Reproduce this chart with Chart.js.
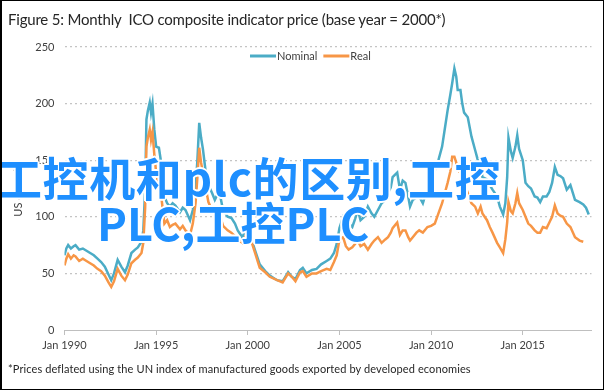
<!DOCTYPE html>
<html>
<head>
<meta charset="utf-8">
<script src="https://cdn.jsdelivr.net/npm/chart.js@4.4.1/dist/chart.umd.min.js"></script>
<style>
html,body{margin:0;padding:0;background:#fff;}
#wrap{position:relative;width:604px;height:390px;overflow:hidden;background:#fff;}
#c{position:absolute;left:0;top:0;}
#frame{position:absolute;left:0;top:0;width:604px;height:390px;box-sizing:border-box;border:1px solid #000;border-left-width:2px;pointer-events:none;}
#title{position:absolute;left:8px;top:10px;font:15px Lato,sans-serif;letter-spacing:-0.2px;color:#262626;white-space:pre;}
#foot{position:absolute;left:8px;top:362px;font:11px Lato,sans-serif;letter-spacing:0.1px;color:#262626;white-space:pre;}
.ov{position:absolute;font-family:"Noto Sans CJK SC",sans-serif;font-weight:700;line-height:46px;color:#1e8fff;white-space:nowrap;
text-shadow:0 0 2px #fff,1px 1px 0 #fff,-1px -1px 0 #fff,1px -1px 0 #fff,-1px 1px 0 #fff,0 2px 0 #fff,2px 0 0 #fff,0 -2px 0 #fff,-2px 0 0 #fff;}
</style>
</head>
<body>
<div id="wrap">
<canvas id="c" width="604" height="390"></canvas>
<div id="title">Figure 5: Monthly  ICO composite indicator price (base year = 2000*)</div>
<div id="foot">*Prices deflated using the UN index of manufactured goods exported by developed economies</div>
<div class="ov" style="left:-4px;top:153px;font-size:46px;letter-spacing:0.6px;">工控机和plc的区别,工控</div>
<div class="ov" style="left:97px;top:199px;font-size:45px;">PLC,工控PLC</div>
<div id="frame"></div>
</div>
<script>
// time in decimal years
const months = [
1990.0,1990.1,1990.2,1990.35,1990.5,1990.6,1990.8,1991.0,1991.2,1991.4,1991.6,1991.8,
1992.0,1992.2,1992.4,1992.55,1992.7,1992.9,1993.1,1993.3,1993.45,1993.65,1993.85,
1994.0,1994.2,1994.3,1994.4,1994.47,1994.55,1994.65,1994.72,1994.8,1994.9,
1995.0,1995.15,1995.3,1995.45,1995.6,1995.75,1995.9,1996.05,1996.3,1996.45,1996.6,1996.85,
1997.0,1997.15,1997.25,1997.35,1997.45,1997.55,1997.7,1997.85,1998.05,1998.2,1998.35,1998.5,1998.65,1998.9,
1999.1,1999.3,1999.45,1999.7,1999.85,2000.0,2000.2,2000.4,2000.65,2000.95,2001.2,2001.6,2001.9,
2002.2,2002.4,2002.6,2002.85,2003.0,2003.2,2003.5,2003.75,2004.0,2004.3,2004.5,2004.7,2004.85,
2005.0,2005.2,2005.35,2005.5,2005.7,2005.85,2006.0,2006.15,2006.35,2006.55,2006.75,2006.9,
2007.1,2007.3,2007.5,2007.65,2007.8,2007.9,2008.15,2008.3,2008.45,2008.6,2008.75,2008.85,
2009.0,2009.2,2009.35,2009.55,2009.7,2009.8,2010.0,2010.2,2010.4,2010.6,2010.75,2010.9,
2011.05,2011.15,2011.27,2011.37,2011.45,2011.6,2011.7,2011.8,2012.0,2012.2,2012.4,2012.55,2012.7,2012.8,
2013.05,2013.2,2013.35,2013.6,2013.75,2013.93,2014.05,2014.15,2014.22,2014.35,2014.45,2014.6,2014.7,2014.8,
2015.0,2015.15,2015.3,2015.45,2015.65,2015.8,2015.95,2016.1,2016.3,2016.45,2016.6,2016.75,2016.9,
2017.05,2017.2,2017.4,2017.6,2017.85,2018.1,2018.3,2018.45,2018.6
];
const nominal = [
66,72,75,72,74,75,71,72,70,68,66,63,
60,56,49,44,50,62,56,51,57,68,71,
73,78,88,124,186,194,201,192,200,177,
162,161,145,118,112,109,112,110,104,108,106,97,
106,125,150,183,170,160,140,128,121,115,120,118,106,100,
99,94,88,82,87,91,80,70,58,52,48,44,43,
51,47,45,53,55,50,53,54,58,61,63,68,76,
90,100,97,94,91,98,106,97,100,109,103,100,
106,112,115,121,126,135,139,124,132,130,118,109,
115,117,118,112,120,124,128,141,150,162,178,194,
208,218,231,224,212,212,200,192,188,171,159,150,145,135,
133,128,124,118,109,102,112,135,170,158,152,162,172,160,
150,130,127,125,118,117,113,118,118,122,130,144,137,
136,134,124,128,115,113,111,108,102
];
const real = [
57,63,67,63,66,65,61,63,61,59,57,54,
52,48,42,38,43,54,48,44,49,59,62,
64,68,77,108,162,170,177,168,175,155,
139,126,115,94,97,91,93,94,89,92,88,84,
94,112,135,161,148,139,126,113,106,103,104,100,92,88,
86,83,80,77,82,88,78,68,55,51,47,44,42,
50,47,43,51,52,47,50,50,52,54,53,60,66,
80,82,74,71,73,76,79,74,76,71,76,79,
82,77,80,82,86,90,95,84,88,88,82,79,
82,86,88,86,89,91,92,94,103,112,121,130,
140,153,153,148,141,139,134,130,121,112,109,103,109,103,
97,91,86,77,73,68,80,95,113,105,103,112,121,112,
106,100,94,92,88,86,86,91,90,95,100,110,103,
101,100,94,91,82,79,78,null,null
];
const yTicks = [0,50,100,150,200,250];
const xTickYears = [1990,1995,2000,2005,2010,2015];
const seriesNames = ['Nominal','Real'];

const toPts = arr => months.map((t,i)=>({x:t,y:arr[i]}));

const inlineLegend = {
  id:'inlineLegend',
  afterDraw(chart){
    const ctx = chart.ctx;
    ctx.save();
    ctx.font = '11px Lato, sans-serif';
    ctx.textBaseline = 'middle';
    const y = 56;
    let x = 250;
    chart.data.datasets.forEach(ds=>{
      ctx.strokeStyle = ds.borderColor;
      ctx.lineWidth = 3;
      ctx.beginPath(); ctx.moveTo(x,y); ctx.lineTo(x+26,y); ctx.stroke();
      x += 27;
      ctx.fillStyle = '#404040';
      ctx.fillText(ds.label, x, y);
      x += ctx.measureText(ds.label).width + 6;
    });
    ctx.restore();
  }
};

new Chart(document.getElementById('c'), {
  type:'line',
  data:{
    datasets:[
      {label:seriesNames[0], data:toPts(nominal), borderColor:'#4bacc6', borderWidth:2.5, pointRadius:0, tension:0, order:2},
      {label:seriesNames[1], data:toPts(real), borderColor:'#f79646', borderWidth:2.5, pointRadius:0, tension:0, order:1}
    ]
  },
  options:{
    responsive:false,
    animation:false,
    events:[],
    layout:{padding:{top:47,left:0,right:12.5,bottom:30}},
    plugins:{legend:{display:false},tooltip:{enabled:false}},
    scales:{
      x:{
        type:'linear', min:1990, max:2018.75,
        afterBuildTicks: s => { s.ticks = xTickYears.map(v=>({value:v})); },
        afterFit: s => { s.height = 30; },
        ticks:{ callback: v => 'Jan ' + v, font:{family:'Lato', size:11}, color:'#404040', padding:4, maxRotation:0, autoSkip:false },
        grid:{ drawOnChartArea:false, drawTicks:true, tickLength:5, color:'#bfbfbf' },
        border:{ display:true, color:'#bfbfbf', width:1 }
      },
      y:{
        min:0, max:250,
        afterBuildTicks: s => { s.ticks = yTicks.map(v=>({value:v})); },
        afterFit: s => { s.width = 64.5; },
        ticks:{ font:{family:'Lato', size:11}, color:'#404040', padding:10 },
        grid:{ drawTicks:false, color: c => c.tick && c.tick.value===0 ? 'rgba(0,0,0,0)' : '#c4c4c4', lineWidth:1.2 },
        border:{ display:false, dash:[2,3] },
        title:{ display:true, text:'US cents/lb', font:{family:'Lato', size:11}, color:'#404040', padding:{top:12,bottom:0} }
      }
    }
  },
  plugins:[inlineLegend]
});
</script>
</body>
</html>
